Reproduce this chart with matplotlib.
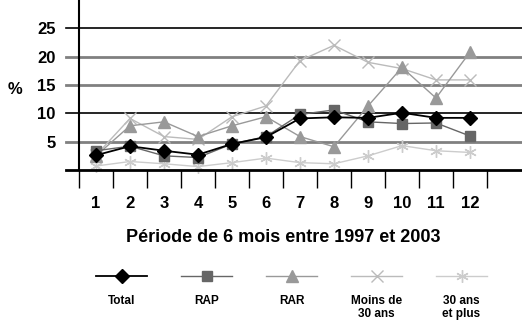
import numpy as np
import matplotlib
matplotlib.use("Agg")
import matplotlib.pyplot as plt

plt.rcParams["font.family"] = ["Liberation Sans", "DejaVu Sans"]
plt.rcParams["font.weight"] = "bold"

# ── data ──────────────────────────────────────────────────────────────────────
periods = list(range(1, 13))
total = [2.6, 4.2, 3.4, 2.7, 4.6, 5.8, 9.1, 9.3, 9.2, 10.1, 9.2, 9.2]
rap = [3.4, 4.2, 2.5, 2.2, 4.6, 5.9, 9.8, 10.6, 8.5, 8.2, 8.3, 6.0]
rar = [2.5, 7.8, 8.5, 5.9, 7.8, 9.4, 5.9, 4.1, 11.3, 18.1, 12.7, 20.8]
moins30 = [2.6, 9.1, 5.9, 5.4, 9.4, 11.3, 19.3, 22.0, 19.0, 17.9, 15.9, 15.9]
plus30 = [0.7, 1.5, 1.1, 0.6, 1.3, 2.1, 1.3, 1.1, 2.5, 4.3, 3.4, 3.1]

labels = ["Total", "RAP", "RAR", "Moins de\n30 ans", "30 ans\net plus"]
series = [total, rap, rar, moins30, plus30]
colors = ["#000000", "#666666", "#999999", "#bbbbbb", "#cccccc"]
markers = ["D", "s", "^", "x", (6, 2, 0)]
msizes = [7, 7.5, 8, 8, 9]
lwidths = [1.3, 1.0, 1.0, 1.0, 1.0]

yticks = [5, 10, 15, 20, 25]
grid_colors = ["#808080", "#000000", "#808080", "#808080", "#000000"]
grid_widths = [2.0, 1.2, 2.0, 2.0, 1.2]

fig = plt.figure(figsize=(5.22, 3.22), dpi=100)
ax = fig.add_axes([79 / 522, 1 - 170 / 322, 1 - 79 / 522, 170 / 322])
ax.set_xlim(0.5, 13.53)
ax.set_ylim(0, 30)

# gridlines, running a bit left of the y axis
for v, c, w in zip(yticks, grid_colors, grid_widths):
    ax.plot([-0.03, 1], [v, v], color=c, lw=w, transform=ax.get_yaxis_transform(),
            clip_on=False, zorder=1)
ax.plot([-0.03, 1], [0, 0], color="black", lw=2.0, transform=ax.get_yaxis_transform(),
        clip_on=False, zorder=6)

for ys, c, m, ms, lw in zip(series[::-1], colors[::-1], markers[::-1],
                            msizes[::-1], lwidths[::-1]):
    ax.plot(periods, ys, color=c, marker=m, ms=ms, lw=lw, mew=1.0,
            clip_on=False, zorder=3)

for s in ["top", "right", "bottom"]:
    ax.spines[s].set_visible(False)
ax.spines["left"].set_linewidth(1.5)

ax.set_yticks(yticks)
ax.set_yticklabels([str(v) for v in yticks], fontsize=12, fontweight="bold")
ax.tick_params(axis="y", length=0, pad=17)

ax.set_xticks(periods)
ax.set_xticklabels([str(p) for p in periods], fontsize=12, fontweight="bold")
ax.set_xticks(np.arange(0.5, 13, 1), minor=True)
ax.tick_params(axis="x", which="major", length=0, pad=19)
ax.tick_params(axis="x", which="minor", length=13, width=1.0, direction="out")

ax.set_xlabel("Période de 6 mois entre 1997 et 2003", fontsize=13,
              fontweight="bold", va="center")
ax.xaxis.set_label_coords((283 - 79) / 443, -(237 - 170) / 170)
fig.text(8 / 522, 1 - 90 / 322, "%", fontsize=12, fontweight="bold",
         ha="left", va="center")

# legend laid out as in the original: sample line on top, label below
lax = fig.add_axes([79 / 522, 0.0, 425 / 522, 0.2])
lax.set_xlim(-0.5, 4.5)
lax.set_ylim(0, 1)
lax.axis("off")
for i, (lab, c, m, ms, lw) in enumerate(zip(labels, colors, markers, msizes, lwidths)):
    lax.plot([i - 0.3, i + 0.3], [0.72, 0.72], color=c, lw=lw)
    lax.plot([i], [0.72], color=c, marker=m, ms=ms, mew=1.0)
    lax.text(i, 0.42, lab, ha="center", va="top", fontsize=8.5,
             fontweight="bold", linespacing=1.1)

fig.savefig("out.png", dpi=100)
